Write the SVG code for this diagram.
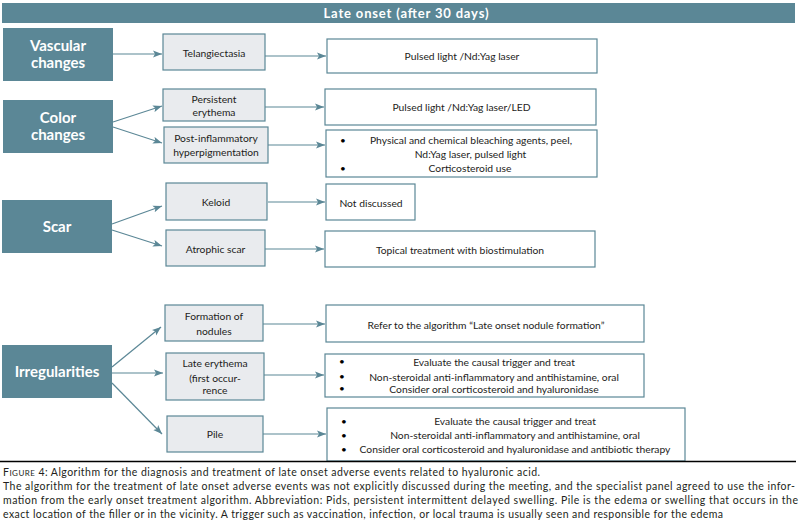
<svg xmlns="http://www.w3.org/2000/svg" width="799" height="527" viewBox="0 0 799 527">
<style>
.teal{fill:#5b8796}
.mid{fill:#e9ebee;stroke:#5b8796;stroke-width:1.2}
.out{fill:#ffffff;stroke:#5b8796;stroke-width:1.2}
.hd{font-family:Lato,"Liberation Sans",sans-serif;font-weight:bold;font-size:15px;fill:#ffffff;text-anchor:middle}
.tt{font-family:Lato,"Liberation Sans",sans-serif;font-weight:bold;font-size:13px;fill:#ffffff;text-anchor:middle}
.t{font-family:Lato,"Liberation Sans",sans-serif;font-size:10.3px;fill:#1d1d1b;text-anchor:middle}
.b{font-family:Lato,"Liberation Sans",sans-serif;font-size:10px;fill:#000;text-anchor:middle}
.cap{font-family:Lato,"Liberation Sans",sans-serif;font-size:10.5px;fill:#231f20}
.conn line{stroke:#5b8796;stroke-width:1.2;marker-end:url(#ah)}
</style>
<defs>
<marker id="ah" markerUnits="userSpaceOnUse" markerWidth="10" markerHeight="8" refX="9" refY="4" orient="auto">
<path d="M0,0.5 L9,4 L0,7.5 L2,4 Z" fill="#5b8796"/>
</marker>
</defs>
<g id="header">
<rect class="teal" x="2" y="3" width="793" height="20"/>
<text class="tt" x="406" y="18" textLength="165">Late onset (after 30 days)</text>
</g>
<g id="vascular">
<rect class="teal" x="3" y="28" width="110" height="53"/>
<text class="hd" x="58" y="51">Vascular</text>
<text class="hd" x="58" y="68">changes</text>
</g>
<g id="color">
<rect class="teal" x="3" y="100" width="110" height="53"/>
<text class="hd" x="58" y="123">Color</text>
<text class="hd" x="58" y="140">changes</text>
</g>
<g id="scar">
<rect class="teal" x="2" y="200" width="110" height="53"/>
<text class="hd" x="57" y="232">Scar</text>
</g>
<g id="irregularities">
<rect class="teal" x="2" y="345" width="110" height="53"/>
<text class="hd" x="57" y="377">Irregularities</text>
</g>
<g id="telangiectasia">
<rect class="mid" x="163" y="34" width="102" height="36"/>
<text class="t" x="214" y="57">Telangiectasia</text>
</g>
<g id="persistent">
<rect class="mid" x="163" y="89" width="102" height="32"/>
<text class="t" x="214" y="102.5">Persistent</text>
<text class="t" x="214" y="115.5">erythema</text>
</g>
<g id="postinflammatory">
<rect class="mid" x="164" y="127" width="104" height="36"/>
<text class="t" x="216" y="141.5">Post-inflammatory</text>
<text class="t" x="216" y="156">hyperpigmentation</text>
</g>
<g id="keloid">
<rect class="mid" x="166" y="183" width="101" height="37"/>
<text class="t" x="216" y="205.5">Keloid</text>
</g>
<g id="atrophic">
<rect class="mid" x="166" y="230" width="99" height="36"/>
<text class="t" x="215.5" y="252.5">Atrophic scar</text>
</g>
<g id="nodules">
<rect class="mid" x="165" y="305" width="98" height="36"/>
<text class="t" x="214" y="319.5">Formation of</text>
<text class="t" x="214" y="334.5">nodules</text>
</g>
<g id="lateerythema">
<rect class="mid" x="166" y="353" width="98" height="47"/>
<text class="t" x="215" y="366.5">Late erythema</text>
<text class="t" x="215" y="381.5">(first occur-</text>
<text class="t" x="215" y="393.5">rence</text>
</g>
<g id="pile">
<rect class="mid" x="167" y="416" width="96" height="36"/>
<text class="t" x="215" y="437.5">Pile</text>
</g>
<g id="r-telangiectasia">
<rect class="out" x="327" y="39" width="270" height="34"/>
<text class="t" x="462" y="59.5">Pulsed light /Nd:Yag laser</text>
</g>
<g id="r-persistent">
<rect class="out" x="325" y="89" width="271" height="36"/>
<text class="t" x="461.5" y="110.5">Pulsed light /Nd:Yag laser/LED</text>
</g>
<g id="r-postinflammatory">
<rect class="out" x="326" y="130" width="271" height="47"/>
<text class="b" x="343" y="143.5">•</text>
<text class="t" x="471" y="143.5">Physical and chemical bleaching agents, peel,</text>
<text class="t" x="470.5" y="157.5">Nd:Yag laser, pulsed light</text>
<text class="b" x="343" y="171.5">•</text>
<text class="t" x="470" y="171.5">Corticosteroid use</text>
</g>
<g id="r-keloid">
<rect class="out" x="326" y="184" width="89" height="36"/>
<text class="t" x="371" y="206.5">Not discussed</text>
</g>
<g id="r-atrophic">
<rect class="out" x="325" y="231" width="270" height="36"/>
<text class="t" x="460" y="253.5">Topical treatment with biostimulation</text>
</g>
<g id="r-nodules">
<rect class="out" x="326" y="305" width="318" height="37"/>
<text class="t" x="486" y="328.5">Refer to the algorithm “Late onset nodule formation”</text>
</g>
<g id="r-lateerythema">
<rect class="out" x="325" y="354" width="319" height="43"/>
<text class="b" x="342" y="365">•</text>
<text class="t" x="494" y="365.5">Evaluate the causal trigger and treat</text>
<text class="b" x="342" y="380">•</text>
<text class="t" x="494" y="380.5">Non-steroidal anti-inflammatory and antihistamine, oral</text>
<text class="b" x="342" y="392">•</text>
<text class="t" x="494" y="392.5">Consider oral corticosteroid and hyaluronidase</text>
</g>
<g id="r-pile">
<rect class="out" x="327" y="408" width="358" height="53"/>
<text class="b" x="344" y="424.5">•</text>
<text class="t" x="515" y="425">Evaluate the causal trigger and treat</text>
<text class="b" x="344" y="438.5">•</text>
<text class="t" x="515" y="439">Non-steroidal anti-inflammatory and antihistamine, oral</text>
<text class="b" x="344" y="452.5">•</text>
<text class="t" x="515" y="452.5">Consider oral corticosteroid and hyaluronidase and antibiotic therapy</text>
</g>
<g id="connectors" class="conn">
<line x1="113" y1="54" x2="162" y2="54"/>
<line x1="265" y1="56" x2="326" y2="56"/>
<line x1="113" y1="122" x2="162" y2="106"/>
<line x1="113" y1="127" x2="162" y2="143"/>
<line x1="265" y1="107" x2="324" y2="107"/>
<line x1="268" y1="145" x2="325" y2="145"/>
<line x1="112" y1="224" x2="162" y2="206"/>
<line x1="112" y1="230" x2="162" y2="246"/>
<line x1="268" y1="202" x2="325" y2="202"/>
<line x1="265" y1="249" x2="324" y2="249"/>
<line x1="112" y1="367" x2="161" y2="327"/>
<line x1="112" y1="373" x2="163" y2="373"/>
<line x1="112" y1="383" x2="162" y2="434"/>
<line x1="263" y1="324" x2="325" y2="324"/>
<line x1="264" y1="375" x2="324" y2="375"/>
<line x1="263" y1="434" x2="326" y2="434"/>
</g>
<g id="caption">
<line x1="0" y1="461.5" x2="796" y2="461.5" stroke="#000" stroke-width="1.3"/>
<text class="cap" x="3" y="476" textLength="537">F<tspan font-size="8px">IGURE</tspan> 4: Algorithm for the diagnosis and treatment of late onset adverse events related to hyaluronic acid.</text>
<text class="cap" x="3" y="490" textLength="792">The algorithm for the treatment of late onset adverse events was not explicitly discussed during the meeting, and the specialist panel agreed to use the infor-</text>
<text class="cap" x="3" y="504" textLength="795">mation from the early onset treatment algorithm. Abbreviation: Pids, persistent intermittent delayed swelling. Pile is the edema or swelling that occurs in the</text>
<text class="cap" x="3" y="518" textLength="720">exact location of the filler or in the vicinity. A trigger such as vaccination, infection, or local trauma is usually seen and responsible for the edema</text>
</g>
</svg>
